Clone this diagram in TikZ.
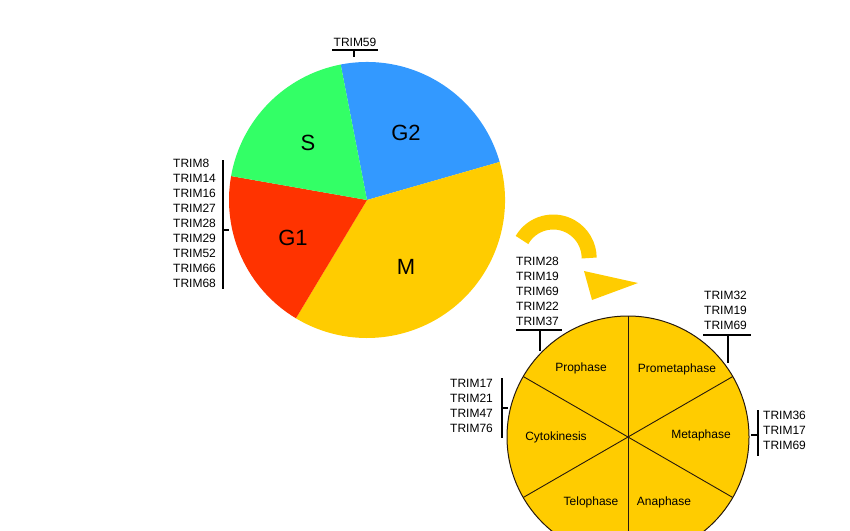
\documentclass[tikz,border=0pt]{standalone}
\usepackage{fontspec}
\setmainfont{Liberation Sans}
\begin{document}
\begin{tikzpicture}[x=1pt,y=-1pt,
  trim/.style={font=\fontsize{12}{15}\selectfont,inner sep=0pt,align=left},
  big/.style={font=\fontsize{22}{24}\selectfont,inner sep=0pt},
  ph/.style={font=\fontsize{12}{14}\selectfont,inner sep=0pt},
  br/.style={line width=1.3pt}]
\useasboundingbox (0,0) rectangle (850,530);
\definecolor{cg}{HTML}{33FF66}\definecolor{cb}{HTML}{3399FF}
\definecolor{cr}{HTML}{FF3300}\definecolor{cy}{HTML}{FFCC00}
\coordinate (C) at (367,200);
\def\R{138}
\begin{scope}[y=1pt]
\fill[cb] (367,-200) -- ++(101:\R) arc (101:16:\R) -- cycle;
\fill[cy] (367,-200) -- ++(16:\R) arc (16:-121:\R) -- cycle;
\fill[cr] (367,-200) -- ++(239:\R) arc (239:170:\R) -- cycle;
\fill[cg] (367,-200) -- ++(170:\R) arc (170:101:\R) -- cycle;
% small circle
\fill[cy,draw=black!80!brown,line width=1pt] (628,-437) circle (121);
\foreach \a in {30,90,150} \draw[black!80!brown,line width=0.9pt] (628,-437) ++(\a:121) -- ++(\a+180:242);
% curved arrow
\draw[cy,line width=15pt] (522,-240) arc (150:0:36);
\fill[cy] (584,-271) -- (638,-283) -- (592,-300) -- cycle;
\end{scope}
\node[big] (s) at (308,143) {S};
\node[big] (g2) at (406,133) {G2};
\node[big] (g1) at (293,238) {G1};
\node[big] (m) at (406,267) {M};
% TRIM59
\node[trim] (t59) at (355,42) {TRIM59};
\draw[br] (332,50) -- (378,50) (354,50) -- (354,57);
% left list
\node[trim,anchor=north west] (l1) at (173,159) {TRIM8\\TRIM14\\TRIM16\\TRIM27\\TRIM28\\TRIM29\\TRIM52\\TRIM66\\TRIM68};
\draw[br] (223,160) -- (223,289) (223,230) -- (229,230);
% prophase list
\node[trim,anchor=north west] (l2) at (516,257) {TRIM28\\TRIM19\\TRIM69\\TRIM22\\TRIM37};
\draw[br] (516,330) -- (562,330) (540,330) -- (540,351);
% prometaphase list
\node[trim,anchor=north west] (l3) at (704,291) {TRIM32\\TRIM19\\TRIM69};
\draw[br] (703,335) -- (751,335) (728,335) -- (728,363);
% metaphase list
\node[trim,anchor=north west] (l4) at (763,411) {TRIM36\\TRIM17\\TRIM69};
\draw[br] (758,410) -- (758,456) (751,435) -- (758,435);
% cytokinesis list
\node[trim,anchor=north west] (l5) at (450,379) {TRIM17\\TRIM21\\TRIM47\\TRIM76};
\draw[br] (502,378) -- (502,438) (502,408) -- (508,408);
% phases
\node[ph] (p1) at (581,368) {Prophase};
\node[ph] (p2) at (677,369) {Prometaphase};
\node[ph] (p3) at (701,435) {Metaphase};
\node[ph] (p4) at (556,437) {Cytokinesis};
\node[ph] (p5) at (591,502) {Telophase};
\node[ph] (p6) at (664,502) {Anaphase};
\end{tikzpicture}
\end{document}
